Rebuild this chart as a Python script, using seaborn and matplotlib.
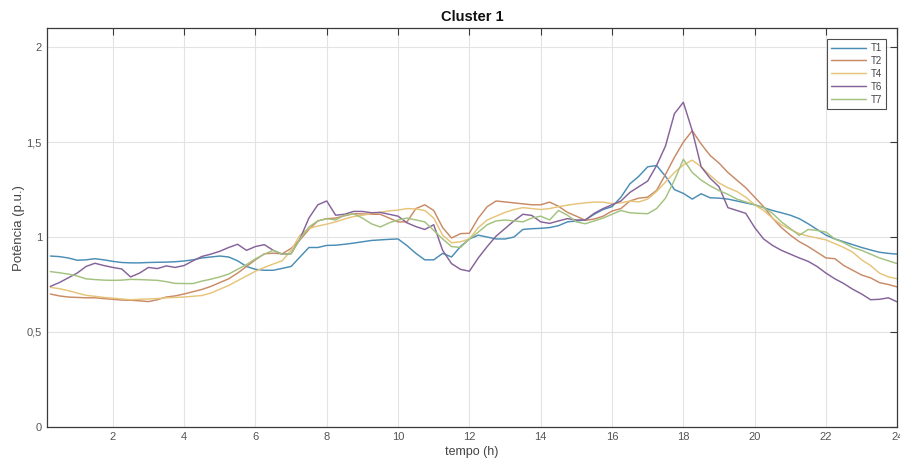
import numpy as np
import pandas as pd
import matplotlib
matplotlib.use("Agg")
import matplotlib.pyplot as plt
import seaborn as sns

# Hourly axis: 15-minute samples over one day
hours = np.arange(0.25, 24.001, 0.25)

t1 = [0.900, 0.897, 0.890, 0.878, 0.880, 0.886, 0.880, 0.872,
      0.866, 0.864, 0.864, 0.866, 0.867, 0.868, 0.870, 0.874,
      0.880, 0.890, 0.895, 0.900, 0.895, 0.875, 0.845, 0.830,
      0.825, 0.825, 0.835, 0.845, 0.895, 0.945, 0.945, 0.956,
      0.957, 0.962, 0.968, 0.975, 0.982, 0.985, 0.988, 0.990,
      0.955, 0.914, 0.880, 0.880, 0.914, 0.895, 0.950, 0.990,
      1.010, 1.000, 0.990, 0.990, 1.000, 1.040, 1.044, 1.046,
      1.050, 1.060, 1.080, 1.085, 1.090, 1.120, 1.145, 1.160,
      1.210, 1.280, 1.320, 1.370, 1.377, 1.320, 1.250, 1.230,
      1.200, 1.228, 1.207, 1.205, 1.200, 1.190, 1.180, 1.170,
      1.155, 1.140, 1.128, 1.115, 1.097, 1.070, 1.040, 1.010,
      0.990, 0.975, 0.960, 0.945, 0.932, 0.920, 0.914, 0.910]

t2 = [0.700, 0.690, 0.684, 0.682, 0.680, 0.680, 0.676, 0.672,
      0.668, 0.667, 0.664, 0.660, 0.670, 0.684, 0.690, 0.700,
      0.712, 0.724, 0.740, 0.760, 0.780, 0.810, 0.845, 0.880,
      0.912, 0.915, 0.912, 0.940, 0.985, 1.040, 1.085, 1.097,
      1.100, 1.112, 1.123, 1.122, 1.120, 1.120, 1.100, 1.080,
      1.080, 1.150, 1.170, 1.140, 1.050, 0.995, 1.018, 1.020,
      1.100, 1.160, 1.190, 1.185, 1.180, 1.175, 1.170, 1.170,
      1.184, 1.162, 1.130, 1.110, 1.088, 1.095, 1.110, 1.137,
      1.150, 1.190, 1.205, 1.210, 1.246, 1.330, 1.420, 1.500,
      1.560, 1.490, 1.430, 1.390, 1.340, 1.300, 1.260, 1.210,
      1.160, 1.100, 1.050, 1.010, 0.976, 0.950, 0.920, 0.890,
      0.886, 0.850, 0.825, 0.800, 0.785, 0.760, 0.750, 0.737]

t4 = [0.735, 0.728, 0.718, 0.705, 0.693, 0.688, 0.682, 0.678,
      0.674, 0.670, 0.672, 0.674, 0.676, 0.680, 0.682, 0.684,
      0.688, 0.692, 0.705, 0.725, 0.745, 0.770, 0.795, 0.820,
      0.840, 0.858, 0.875, 0.930, 1.010, 1.045, 1.058, 1.068,
      1.080, 1.095, 1.108, 1.115, 1.123, 1.130, 1.138, 1.142,
      1.150, 1.148, 1.140, 1.100, 1.010, 0.970, 0.975, 0.990,
      1.050, 1.090, 1.110, 1.130, 1.145, 1.155, 1.150, 1.145,
      1.150, 1.160, 1.168, 1.175, 1.180, 1.184, 1.184, 1.176,
      1.180, 1.190, 1.185, 1.200, 1.240, 1.290, 1.340, 1.380,
      1.405, 1.370, 1.325, 1.285, 1.260, 1.240, 1.210, 1.170,
      1.140, 1.100, 1.065, 1.040, 1.018, 1.005, 0.995, 0.985,
      0.965, 0.945, 0.920, 0.880, 0.850, 0.810, 0.790, 0.780]

t6 = [0.740, 0.760, 0.785, 0.810, 0.845, 0.862, 0.850, 0.840,
      0.832, 0.790, 0.810, 0.840, 0.834, 0.848, 0.840, 0.850,
      0.875, 0.898, 0.910, 0.925, 0.945, 0.962, 0.930, 0.950,
      0.960, 0.930, 0.910, 0.912, 0.990, 1.100, 1.170, 1.190,
      1.115, 1.120, 1.135, 1.135, 1.128, 1.130, 1.120, 1.110,
      1.075, 1.055, 1.040, 1.065, 0.930, 0.860, 0.830, 0.820,
      0.890, 0.950, 1.005, 1.045, 1.085, 1.120, 1.114, 1.080,
      1.072, 1.085, 1.097, 1.090, 1.090, 1.125, 1.150, 1.170,
      1.190, 1.235, 1.265, 1.295, 1.377, 1.480, 1.650, 1.710,
      1.560, 1.370, 1.310, 1.265, 1.155, 1.140, 1.125, 1.050,
      0.990, 0.956, 0.930, 0.910, 0.890, 0.872, 0.845, 0.810,
      0.780, 0.755, 0.725, 0.700, 0.670, 0.672, 0.680, 0.658]

t7 = [0.818, 0.812, 0.805, 0.795, 0.780, 0.776, 0.773, 0.772,
      0.773, 0.777, 0.776, 0.774, 0.772, 0.765, 0.756, 0.755,
      0.755, 0.768, 0.778, 0.790, 0.805, 0.830, 0.855, 0.885,
      0.910, 0.930, 0.910, 0.912, 0.990, 1.053, 1.085, 1.097,
      1.090, 1.115, 1.123, 1.100, 1.070, 1.053, 1.075, 1.090,
      1.100, 1.090, 1.080, 1.035, 0.990, 0.950, 0.945, 0.990,
      1.026, 1.065, 1.085, 1.090, 1.085, 1.080, 1.100, 1.110,
      1.090, 1.140, 1.115, 1.080, 1.070, 1.085, 1.100, 1.120,
      1.140, 1.128, 1.125, 1.123, 1.150, 1.205, 1.300, 1.410,
      1.340, 1.300, 1.270, 1.245, 1.225, 1.200, 1.185, 1.170,
      1.155, 1.125, 1.080, 1.045, 1.009, 1.040, 1.035, 1.026,
      0.990, 0.970, 0.945, 0.930, 0.910, 0.890, 0.875, 0.860]

series_names = ["T1", "T2", "T4", "T6", "T7"]
series_values = [t1, t2, t4, t6, t7]
series_colors = ["#4a8db5", "#c98a66", "#e6c47a", "#86639a", "#a3c27f"]

x_ticks = [2, 4, 6, 8, 10, 12, 14, 16, 18, 20, 22, 24]
y_ticks = [0, 0.5, 1, 1.5, 2]
y_tick_labels = ["0", "0,5", "1", "1,5", "2"]

frames = [pd.DataFrame({"tempo": hours, "potencia": vals, "serie": name})
          for name, vals in zip(series_names, series_values)]
df = pd.concat(frames, ignore_index=True)

sns.set_style("white")
plt.rcParams["font.family"] = ["Liberation Sans", "DejaVu Sans"]

fig = plt.figure(figsize=(9, 4.63), dpi=100)
ax = fig.add_axes([0.052, 0.078, 0.945, 0.861])

sns.lineplot(data=df, x="tempo", y="potencia", hue="serie",
             palette=dict(zip(series_names, series_colors)),
             linewidth=1.05, ax=ax, legend=True)

ax.set_xlim(0.15, 24)
ax.set_ylim(0, 2.1)
ax.set_xticks(x_ticks)
ax.set_xticklabels([str(t) for t in x_ticks])
ax.set_yticks(y_ticks)
ax.set_yticklabels(y_tick_labels)

ax.grid(True, color="#e3e3e3", linewidth=0.8)
ax.set_axisbelow(True)
for s in ax.spines.values():
    s.set_visible(True)
    s.set_color("#3a3a3a")
    s.set_linewidth(0.9)

ax.tick_params(axis="both", direction="in", length=5, width=0.8,
               colors="#3a3a3a", labelcolor="#555555", labelsize=8,
               top=True, right=True)

ax.set_xlabel("tempo (h)", fontsize=9, color="#444444", labelpad=3)
ax.set_ylabel("Potência (p.u.)", fontsize=9.5, color="#444444", labelpad=1)
ax.set_title("Cluster 1", fontsize=10.5, fontweight="bold", color="#111111", pad=5)

leg = ax.legend(loc="upper right", fontsize=7, frameon=True, fancybox=False,
                edgecolor="#222222", handlelength=3.6, handletextpad=0.5,
                borderpad=0.4, labelspacing=0.3, bbox_to_anchor=(0.992, 0.985))
leg.get_frame().set_linewidth(0.8)
for t in leg.get_texts():
    t.set_color("#444444")

fig.savefig("out.png", dpi=100, facecolor="white")
